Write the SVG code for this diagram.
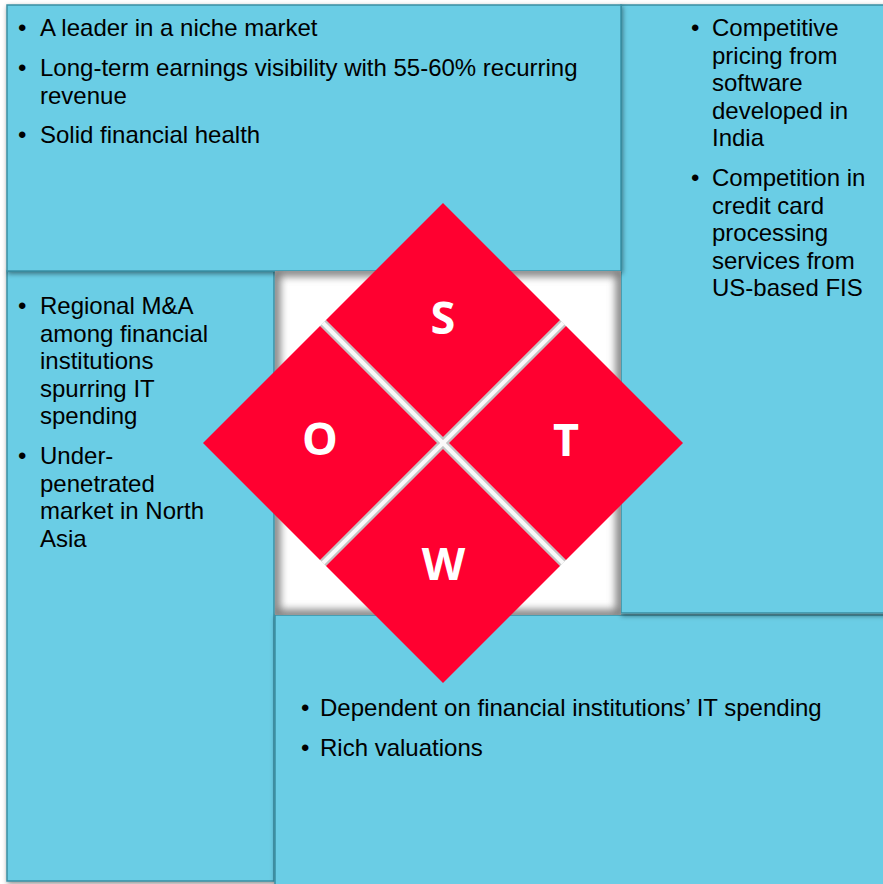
<svg xmlns="http://www.w3.org/2000/svg" width="883" height="884" viewBox="0 0 883 884">
<defs>
<style>
.box{fill:#6ACDE5;stroke:#3A8EA3;stroke-width:1.5;filter:url(#sh)}
.t{font-family:"Liberation Sans",Arial,sans-serif;font-size:24px;fill:#000}
.d{fill:#FF0030}
.l{font-family:"Open Sans","DejaVu Sans",sans-serif;font-weight:bold;font-size:45px;fill:#fff;text-anchor:middle}
</style>
<filter id="sh" x="-5%" y="-5%" width="110%" height="110%">
<feDropShadow dx="1" dy="2" stdDeviation="2.5" flood-color="#000" flood-opacity="0.45"/>
</filter>
<filter id="blur"><feGaussianBlur stdDeviation="4"/></filter>
<clipPath id="cc"><rect x="275" y="271" width="346" height="344"/></clipPath>
</defs>
<rect width="883" height="884" fill="#fff"/>
<g id="box-opportunities">
<rect class="box" x="7" y="271" width="267" height="610"/>
<text class="t"><tspan x="18" y="314">•</tspan><tspan x="40" y="314">Regional M&amp;A</tspan><tspan x="40" y="341.5">among financial</tspan><tspan x="40" y="369">institutions</tspan><tspan x="40" y="396.5">spurring IT</tspan><tspan x="40" y="424">spending</tspan></text>
<text class="t"><tspan x="18" y="464">•</tspan><tspan x="40" y="464">Under-</tspan><tspan x="40" y="491.5">penetrated</tspan><tspan x="40" y="519">market in North</tspan><tspan x="40" y="546.5">Asia</tspan></text>
</g>
<g id="box-weaknesses">
<rect class="box" x="275" y="615" width="620" height="280"/>
<text class="t"><tspan x="301" y="716">•</tspan><tspan x="320" y="716">Dependent on financial institutions’ IT spending</tspan></text>
<text class="t"><tspan x="301" y="756">•</tspan><tspan x="320" y="756">Rich valuations</tspan></text>
</g>
<g id="box-threats">
<rect class="box" x="621" y="5" width="270" height="608"/>
<text class="t"><tspan x="691" y="36">•</tspan><tspan x="712" y="36">Competitive</tspan><tspan x="712" y="63.5">pricing from</tspan><tspan x="712" y="91">software</tspan><tspan x="712" y="118.5">developed in</tspan><tspan x="712" y="146">India</tspan></text>
<text class="t"><tspan x="691" y="186">•</tspan><tspan x="712" y="186">Competition in</tspan><tspan x="712" y="213.5">credit card</tspan><tspan x="712" y="241">processing</tspan><tspan x="712" y="268.5">services from</tspan><tspan x="712" y="296">US-based FIS</tspan></text>
</g>
<g id="box-strengths">
<rect class="box" x="7" y="5" width="614" height="266"/>
<text class="t"><tspan x="18" y="36">•</tspan><tspan x="40" y="36">A leader in a niche market</tspan></text>
<text class="t"><tspan x="18" y="76">•</tspan><tspan x="40" y="76">Long-term earnings visibility with 55-60% recurring</tspan><tspan x="40" y="103.5">revenue</tspan></text>
<text class="t"><tspan x="18" y="143">•</tspan><tspan x="40" y="143">Solid financial health</tspan></text>
</g>
<g id="center">
<rect x="275" y="271" width="346" height="344" fill="#fff"/>
<g clip-path="url(#cc)"><rect x="275" y="271" width="346" height="344" fill="none" stroke="#777" stroke-width="10" filter="url(#blur)"/></g>
<line x1="323" y1="323" x2="563" y2="563" stroke="#c4c4c4" stroke-width="9"/>
<line x1="563" y1="323" x2="323" y2="563" stroke="#c4c4c4" stroke-width="9"/>
<line x1="323" y1="323" x2="563" y2="563" stroke="#fafafa" stroke-width="4"/>
<line x1="563" y1="323" x2="323" y2="563" stroke="#fafafa" stroke-width="4"/>
</g>
<g id="S">
<polygon class="d" points="443,203 560,320 443,437 326,320"/>
<text class="l" x="443" y="334">S</text>
</g>
<g id="T">
<polygon class="d" points="683,443 566,560 449,443 566,326"/>
<text class="l" x="566" y="456">T</text>
</g>
<g id="W">
<polygon class="d" points="443,683 326,566 443,449 560,566"/>
<text class="l" x="443.5" y="580">W</text>
</g>
<g id="O">
<polygon class="d" points="203,443 320,326 437,443 320,560"/>
<text class="l" x="320" y="455">O</text>
</g>
</svg>
